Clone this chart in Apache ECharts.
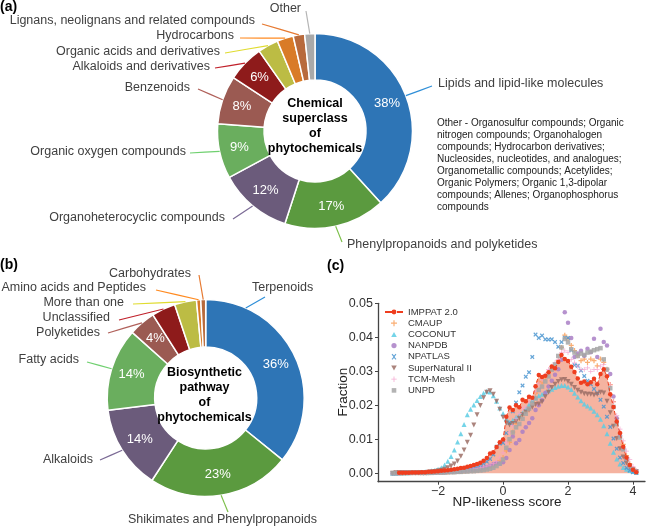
<!DOCTYPE html>
<html><head><meta charset="utf-8">
<script src="https://cdn.jsdelivr.net/npm/echarts@6/dist/echarts.min.js"></script>
<style>html,body{margin:0;padding:0;background:#fff}#c{width:648px;height:530px}</style>
</head><body><div id="c"></div>
<script>
// ---------------- DATA ----------------
const chemClasses = ['Lipids and lipid-like molecules','Phenylpropanoids and polyketides','Organoheterocyclic compounds','Organic oxygen compounds','Benzenoids','Alkaloids and derivatives','Organic acids and derivatives','Hydrocarbons','Lignans, neolignans and related compounds','Other'];
const chemShares = [38.2,16.8,12.1,9.1,8.0,6.1,3.4,2.7,1.9,1.7];

const pathways = ['Terpenoids','Shikimates and Phenylpropanoids','Alkaloids','Fatty acids','Polyketides','Unclassified','More than one','Amino acids and Peptides','Carbohydrates'];
const pathwayShares = [35.8,23.4,13.8,13.6,4.4,3.9,3.6,0.7,0.8];

const scoreBins = [
 -3.4,-3.3,-3.2,-3.1,-3.0,-2.9,-2.8,-2.7,-2.6,-2.5,
 -2.4,-2.3,-2.2,-2.1,-2.0,-1.9,-1.8,-1.7,-1.6,-1.5,
 -1.4,-1.3,-1.2,-1.1,-1.0,-0.9,-0.8,-0.7,-0.6,-0.5,
 -0.4,-0.3,-0.2,-0.1,0.0,0.1,0.2,0.3,0.4,0.5,
 0.6,0.7,0.8,0.9,1.0,1.1,1.2,1.3,1.4,1.5,
 1.6,1.7,1.8,1.9,2.0,2.1,2.2,2.3,2.4,2.5,
 2.6,2.7,2.8,2.9,3.0,3.1,3.2,3.3,3.4,3.5,
 3.6,3.7,3.8,3.9,4.0,4.1];

const imppat = [
 null,null,0.0001,0.0001,0.0001,0.0001,0.0002,0.0002,0.0002,0.0003,
 0.0003,0.0004,0.0004,0.0005,0.0006,0.0007,0.0008,0.0009,0.0010,0.0012,
 0.0013,0.0015,0.0016,0.0019,0.0021,0.0024,0.0027,0.0031,0.0037,0.0045,
 0.0058,0.0062,0.0077,0.0091,0.0099,0.0166,0.0193,0.0186,0.0200,0.0194,
 0.0216,0.0212,0.0225,0.0222,0.0256,0.0289,0.0283,0.0287,0.0297,0.0314,
 0.0309,0.0327,0.0348,0.0336,0.0330,0.0313,0.0298,0.0279,0.0266,0.0270,
 0.0262,0.0268,0.0278,0.0262,0.0292,0.0306,0.0285,0.0232,0.0195,0.0152,
 0.0118,0.0078,0.0046,0.0024,0.0010,0.0003];

const cmaup = [
 null,null,null,0.0000,0.0000,0.0001,0.0001,0.0001,0.0001,0.0001,
 0.0001,0.0001,0.0002,0.0002,0.0002,0.0003,0.0003,0.0003,0.0004,0.0004,
 0.0005,0.0005,0.0006,0.0007,0.0008,0.0009,0.0010,0.0012,0.0014,0.0016,
 0.0019,0.0022,0.0027,0.0036,0.0046,0.0066,0.0091,0.0121,0.0146,0.0161,
 0.0170,0.0181,0.0196,0.0211,0.0236,0.0270,0.0266,0.0281,0.0296,0.0306,
 0.0311,0.0331,0.0370,0.0406,0.0396,0.0376,0.0361,0.0346,0.0331,0.0336,
 0.0326,0.0336,0.0331,0.0316,0.0336,0.0326,0.0306,0.0261,0.0211,0.0161,
 0.0118,0.0085,0.0052,0.0028,0.0014,0.0005];

const coconut = [
 0.0000,0.0000,0.0001,0.0001,0.0001,0.0001,0.0002,0.0002,0.0003,0.0003,
 0.0004,0.0005,0.0007,0.0009,0.0012,0.0016,0.0024,0.0035,0.0049,0.0068,
 0.0092,0.0116,0.0143,0.0172,0.0188,0.0201,0.0214,0.0226,0.0235,0.0241,
 0.0239,0.0228,0.0212,0.0192,0.0176,0.0160,0.0150,0.0156,0.0165,0.0170,
 0.0178,0.0190,0.0202,0.0214,0.0222,0.0228,0.0232,0.0238,0.0243,0.0247,
 0.0252,0.0256,0.0258,0.0258,0.0254,0.0246,0.0235,0.0224,0.0213,0.0204,
 0.0198,0.0192,0.0182,0.0172,0.0159,0.0140,0.0116,0.0088,0.0062,0.0042,
 0.0027,0.0017,0.0012,0.0008,0.0005,0.0003];

const nanpdb = [
 0.0000,0.0000,0.0000,0.0001,0.0001,0.0001,0.0001,0.0001,0.0001,0.0001,
 0.0001,0.0002,0.0002,0.0002,0.0003,0.0003,0.0003,0.0004,0.0004,0.0005,
 0.0005,0.0006,0.0007,0.0008,0.0009,0.0011,0.0012,0.0014,0.0016,0.0018,
 0.0022,0.0026,0.0030,0.0028,0.0032,0.0045,0.0068,0.0108,0.0088,0.0098,
 0.0122,0.0135,0.0148,0.0162,0.0186,0.0200,0.0215,0.0236,0.0255,0.0272,
 0.0290,0.0306,0.0334,0.0474,0.0443,0.0398,0.0342,0.0352,0.0360,0.0346,
 0.0366,0.0356,0.0396,0.0342,0.0425,0.0386,0.0376,0.0292,0.0226,0.0162,
 0.0110,0.0072,0.0042,0.0022,0.0011,0.0004];

const npatlas = [
 null,null,null,null,null,null,null,null,null,0.0000,
 0.0000,0.0001,0.0001,0.0001,0.0002,0.0002,0.0003,0.0003,0.0004,0.0005,
 0.0006,0.0007,0.0009,0.0011,0.0013,0.0016,0.0019,0.0023,0.0028,0.0034,
 0.0042,0.0055,0.0078,0.0087,0.0089,0.0118,0.0148,0.0182,0.0208,0.0238,
 0.0258,0.0284,0.0297,0.0342,0.0408,0.0398,0.0405,0.0394,0.0393,0.0394,
 0.0386,0.0372,0.0386,0.0399,0.0398,0.0362,0.0318,0.0316,0.0302,0.0286,
 0.0272,0.0262,0.0248,0.0236,0.0216,0.0196,0.0166,0.0136,0.0102,0.0072,
 0.0046,0.0030,0.0016,0.0008,0.0003,0.0001];

const supernatural = [
 0.0000,0.0001,0.0001,0.0001,0.0001,0.0001,0.0001,0.0001,0.0002,0.0002,
 0.0002,0.0003,0.0004,0.0005,0.0007,0.0009,0.0012,0.0016,0.0021,0.0027,
 0.0036,0.0050,0.0068,0.0091,0.0112,0.0142,0.0172,0.0199,0.0222,0.0238,
 0.0243,0.0232,0.0212,0.0188,0.0165,0.0148,0.0142,0.0146,0.0152,0.0162,
 0.0172,0.0180,0.0186,0.0194,0.0202,0.0204,0.0210,0.0225,0.0238,0.0252,
 0.0262,0.0270,0.0275,0.0276,0.0270,0.0262,0.0252,0.0244,0.0238,0.0234,
 0.0232,0.0232,0.0230,0.0232,0.0238,0.0236,0.0212,0.0178,0.0138,0.0102,
 0.0072,0.0048,0.0030,0.0018,0.0010,0.0005];

const tcmMesh = [
 null,null,0.0000,0.0001,0.0001,0.0001,0.0001,0.0001,0.0002,0.0002,
 0.0002,0.0002,0.0003,0.0003,0.0003,0.0004,0.0004,0.0005,0.0005,0.0006,
 0.0007,0.0008,0.0009,0.0010,0.0011,0.0013,0.0014,0.0016,0.0018,0.0021,
 0.0024,0.0028,0.0035,0.0045,0.0060,0.0090,0.0120,0.0140,0.0160,0.0175,
 0.0190,0.0195,0.0210,0.0220,0.0240,0.0265,0.0275,0.0290,0.0305,0.0315,
 0.0325,0.0335,0.0355,0.0360,0.0355,0.0335,0.0325,0.0315,0.0305,0.0305,
 0.0310,0.0300,0.0305,0.0305,0.0315,0.0320,0.0305,0.0260,0.0210,0.0170,
 0.0130,0.0095,0.0065,0.0040,0.0020,0.0008];

const unpd = [
 0.0000,0.0000,0.0000,0.0000,0.0001,0.0001,0.0001,0.0001,0.0001,0.0001,
 0.0001,0.0001,0.0001,0.0002,0.0002,0.0002,0.0002,0.0003,0.0003,0.0003,
 0.0004,0.0004,0.0005,0.0005,0.0006,0.0006,0.0007,0.0008,0.0009,0.0011,
 0.0013,0.0016,0.0021,0.0028,0.0040,0.0075,0.0100,0.0120,0.0135,0.0145,
 0.0160,0.0175,0.0190,0.0205,0.0220,0.0245,0.0255,0.0270,0.0285,0.0305,
 0.0320,0.0345,0.0370,0.0395,0.0385,0.0365,0.0355,0.0345,0.0352,0.0348,
 0.0355,0.0358,0.0362,0.0365,0.0368,0.0335,0.0305,0.0250,0.0195,0.0145,
 0.0105,0.0070,0.0042,0.0022,0.0010,0.0004];

const xTicks = [-2,0,2,4];
const yTicks = [0,0.01,0.02,0.03,0.04,0.05];

const otherNote = 'Other - Organosulfur compounds; Organic\nnitrogen compounds; Organohalogen\ncompounds; Hydrocarbon derivatives;\nNucleosides, nucleotides, and analogues;\nOrganometallic compounds; Acetylides;\nOrganic Polymers; Organic 1,3-dipolar\ncompounds; Allenes; Organophosphorus\ncompounds';

// ---------------- STYLE ----------------
const FONT = '"Liberation Sans", Arial, Helvetica, sans-serif';
const chemColors = ['#2e75b6','#5b9a3f','#6b5b7b','#6aae5e','#9b5a52','#8e1b1b','#bcbc44','#d97b28','#b86a3c','#a9a9a9'];
const chemLineColors = ['#2f8fd8','#7cbf4a','#7b6a95','#6fd06f','#b0605a','#c0202a','#e0dc30','#ff8a20','#e67a32','#b5b5b5'];
const pathColors = ['#2e75b6','#5b9a3f','#6b5b7b','#6aae5e','#9b5a52','#8e1b1b','#bcbc44','#d97b28','#b86a3c'];
const pathLineColors = ['#2f8fd8','#7cbf4a','#7b6a95','#6fd06f','#b0605a','#c0202a','#e0dc30','#ff8a20','#e67a32'];

const pieA = {center:[315,131], r0:51, r:97.5};
const pieB = {center:[205.7,398], r0:51, r:98.5};

// label text anchors [x, y, align] and leader-line end points
const chemLabelPos = [[438,84,'left'],[347,245,'left'],[225,218,'right'],[186,152,'right'],[190,88,'right'],[210,67,'right'],[220,52,'right'],[234,36,'right'],[255,21,'right'],[301,9,'right']];
const chemLineEnd = [[432,86],[342,242],[233,219],[190,153],[198,89],[215,68],[225,53],[240,38],[262,24],[306,11]];
const pathLabelPos = [[252,288,'left'],[128,520,'left'],[93,460,'right'],[79,360,'right'],[100,333,'right'],[110,318,'right'],[124,303,'right'],[146,288,'right'],[191,274,'right']];
const pathLineEnd = [[265,297],[228,512],[100,460],[87,362],[108,333],[119,320],[133,304],[156,290],[199,275]];

function edgePoint(p, deg){
  const a = deg*Math.PI/180;
  return [p.center[0] + p.r*Math.sin(a), p.center[1] - p.r*Math.cos(a)];
}
const pathLineStart = {0: edgePoint(pieB, 24)};

function makeLayout(pos, ends, starts){
  return function(params){
    const i = params.dataIndex;
    const p = pos[i];
    const s = (starts && starts[i]) ? starts[i] : params.labelLinePoints[0];
    const e = ends[i];
    const m = [(s[0]+e[0])/2, (s[1]+e[1])/2];
    return {x:p[0], y:p[1], align:p[2], verticalAlign:'middle', labelLinePoints:[s, m, e]};
  };
}

function donut(p, names, values, colors){
  return {
    type:'pie', center:p.center, radius:[p.r0,p.r], startAngle:90, clockwise:true,
    avoidLabelOverlap:false, silent:true, z:2, animation:false,
    itemStyle:{borderColor:'#ffffff', borderWidth:1.5},
    label:{show:true, position:'inside', color:'#ffffff', fontSize:13, fontFamily:FONT,
      formatter: q => q.dataIndex < 6 ? Math.round(q.percent)+'%' : ''},
    labelLine:{show:false},
    emphasis:{disabled:true},
    data: names.map((n,i)=>({name:n, value:values[i], itemStyle:{color:colors[i]}}))
  };
}
function donutLabels(p, names, values, lineColors, pos, ends, starts){
  return {
    type:'pie', center:p.center, radius:[p.r0,p.r], startAngle:90, clockwise:true,
    avoidLabelOverlap:false, silent:true, z:3, animation:false,
    itemStyle:{color:'rgba(0,0,0,0)', borderWidth:0},
    label:{show:true, position:'outside', formatter:'{b}', color:'#404040', fontSize:12.5, fontFamily:FONT},
    labelLine:{show:true, length:6, length2:6, smooth:false, lineStyle:{width:1.2}},
    labelLayout: makeLayout(pos, ends, starts),
    emphasis:{disabled:true},
    data: names.map((n,i)=>({name:n, value:values[i], labelLine:{lineStyle:{color:lineColors[i], width:1.2}}}))
  };
}

function pairs(vals){
  const out = [];
  scoreBins.forEach((x,i)=>{ if (vals[i] != null) out.push([x, vals[i]]); });
  return out;
}
const PLUS = 'path://M3,0H5V3H8V5H5V8H3V5H0V3H3Z';
const THINPLUS = 'path://M3.4,0H4.6V3.4H8V4.6H4.6V8H3.4V4.6H0V3.4H3.4Z';
// legend icons: small marker centred in an 18x6 box (box corners set by moveTo points)
const BOX = 'path://M0,0M18,6';
const legendIcons = {
  'CMAUP': BOX+'M8.4,0H9.6V2.4H12V3.6H9.6V6H8.4V3.6H6V2.4H8.4Z',
  'COCONUT': BOX+'M6.2,5.6L9,0.6L11.8,5.6Z',
  'NANPDB': BOX+'M6.4,3A2.6,2.6,0,1,1,11.6,3A2.6,2.6,0,1,1,6.4,3Z',
  'NPATLAS': BOX+'M6.6,0.8L7.4,0L9,1.8L10.6,0L11.4,0.8L9.8,2.6V3.4L11.4,5.2L10.6,6L9,4.2L7.4,6L6.6,5.2L8.2,3.4V2.6Z',
  'SuperNatural II': BOX+'M6.2,0.4L11.8,0.4L9,5.4Z',
  'TCM-Mesh': BOX+'M8.6,0.3H9.4V2.6H11.7V3.4H9.4V5.7H8.6V3.4H6.3V2.6H8.6Z',
  'UNPD': BOX+'M6.7,0.7H11.3V5.3H6.7Z'
};
const legendNames = ['IMPPAT 2.0','CMAUP','COCONUT','NANPDB','NPATLAS','SuperNatural II','TCM-Mesh','UNPD'];

function scatter(name, vals, color, symbol, size, rotate){
  return {type:'scatter', name:name, data:pairs(vals), symbol:symbol, symbolSize:size, symbolRotate:rotate||0,
    itemStyle:{color:color, opacity:0.85}, z:4, silent:true, animation:false};
}

const chart = echarts.init(document.getElementById('c'), null, {renderer:'canvas', width:648, height:530});
chart.setOption({
  animation:false,
  backgroundColor:'#ffffff',
  textStyle:{fontFamily:FONT},
  grid:{left:378, right:3, top:303.3, bottom:48.3, containLabel:false},
  xAxis:{type:'value', min:-3.85, max:4.37,
    axisLine:{show:true, onZero:false, lineStyle:{color:'#444', width:1.3}},
    axisTick:{show:true, inside:false, length:3, customValues:xTicks, lineStyle:{color:'#444'}},
    axisLabel:{show:true, margin:3, customValues:xTicks, color:'#333', fontSize:12.5, fontFamily:FONT,
      formatter: v => (v<0 ? '\u2212'+Math.abs(v) : String(v))},
    splitLine:{show:false}},
  yAxis:{type:'value', min:-0.0025, max:0.05,
    axisLine:{show:true, onZero:false, lineStyle:{color:'#444', width:1.3}},
    axisTick:{show:true, inside:false, length:3, customValues:yTicks, lineStyle:{color:'#444'}},
    axisLabel:{show:true, margin:5, customValues:yTicks, color:'#333', fontSize:12.5, fontFamily:FONT,
      formatter: v => v.toFixed(2)},
    splitLine:{show:false}},
  legend:{orient:'vertical', left:384, top:306.5, itemWidth:18, itemHeight:6, itemGap:0.2, padding:0,
    symbolRotate:0,
    textStyle:{fontSize:9.5, color:'#333', lineHeight:11, fontFamily:FONT},
    data: legendNames.map(n => legendIcons[n] ? {name:n, icon:legendIcons[n]} : {name:n})},
  graphic:[
    {type:'text', left:0, top:0, style:{text:'(a)', font:'bold 14px '+FONT, fill:'#000'}},
    {type:'text', left:0, top:258, style:{text:'(b)', font:'bold 14px '+FONT, fill:'#000'}},
    {type:'text', left:327, top:259, style:{text:'(c)', font:'bold 14px '+FONT, fill:'#000'}},
    {type:'text', x:315, y:126.5, z:10, style:{text:'Chemical\nsuperclass\nof\nphytochemicals', align:'center', verticalAlign:'middle', lineHeight:15, font:'bold 12.5px '+FONT, fill:'#000'}},
    {type:'text', x:204.5, y:395.5, z:10, style:{text:'Biosynthetic\npathway\nof\nphytochemicals', align:'center', verticalAlign:'middle', lineHeight:15, font:'bold 12.5px '+FONT, fill:'#000'}},
    {type:'text', x:437, y:117, style:{text:otherNote, lineHeight:12, font:'10px '+FONT, fill:'#222'}},
    {type:'text', x:343, y:392, rotation:Math.PI/2, style:{text:'Fraction', align:'center', verticalAlign:'middle', font:'13.5px '+FONT, fill:'#222'}},
    {type:'text', x:507, y:502, style:{text:'NP-likeness score', align:'center', verticalAlign:'middle', font:'13.5px '+FONT, fill:'#222'}}
  ],
  series:[
    donut(pieA, chemClasses, chemShares, chemColors),
    donutLabels(pieA, chemClasses, chemShares, chemLineColors, chemLabelPos, chemLineEnd, null),
    donut(pieB, pathways, pathwayShares, pathColors),
    donutLabels(pieB, pathways, pathwayShares, pathLineColors, pathLabelPos, pathLineEnd, pathLineStart),
    {type:'line', name:'IMPPAT area', data:pairs(imppat), symbol:'none', lineStyle:{width:0, opacity:0},
      areaStyle:{color:'#f5b3a0', opacity:1}, z:1, silent:true, animation:false},
    scatter('CMAUP', cmaup, '#f9a05a', PLUS, 5, 0),
    scatter('COCONUT', coconut, '#5ccde4', 'triangle', 5, 0),
    scatter('NANPDB', nanpdb, '#a97fc6', 'circle', 4.5, 0),
    scatter('NPATLAS', npatlas, '#4a95d0', PLUS, 5, 45),
    scatter('SuperNatural II', supernatural, '#9c6e66', 'triangle', 5, 180),
    scatter('TCM-Mesh', tcmMesh, '#f4a0cc', THINPLUS, 5, 0),
    scatter('UNPD', unpd, '#a6a6a6', 'rect', 4.5, 0),
    {type:'line', name:'IMPPAT 2.0', data:pairs(imppat), symbol:'circle', symbolSize:4.5, showSymbol:true,
      lineStyle:{color:'#ef3e1f', width:1, type:'dashed'}, itemStyle:{color:'#ef3e1f'}, z:6, silent:true, animation:false}
  ]
});
</script></body></html>
